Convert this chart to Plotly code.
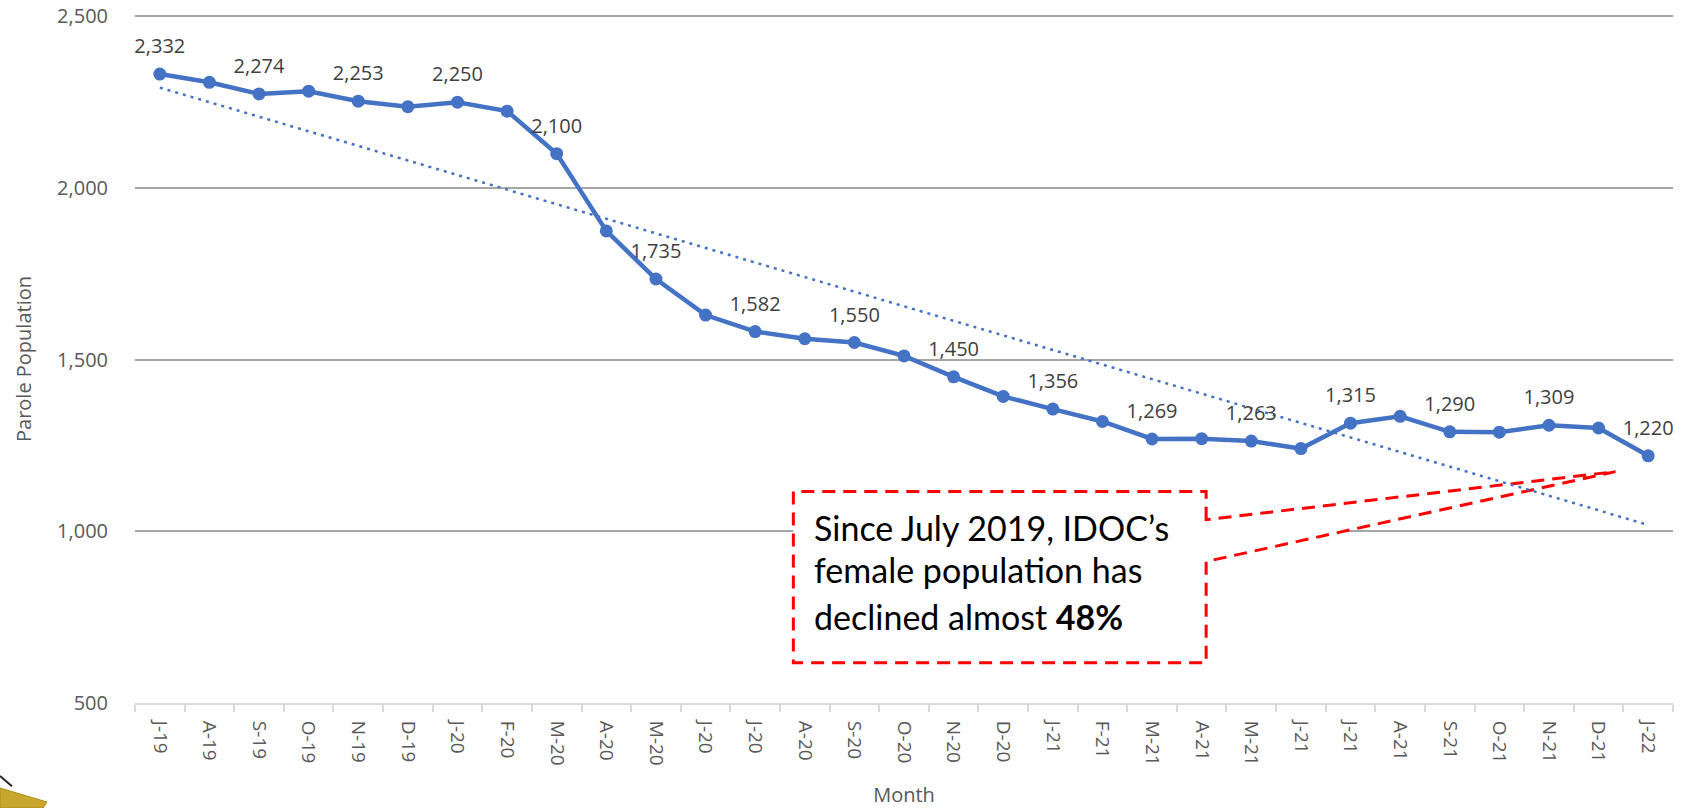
import numpy as np
import plotly.graph_objects as go

months = ["J-19", "A-19", "S-19", "O-19", "N-19", "D-19", "J-20", "F-20", "M-20", "A-20",
          "M-20", "J-20", "J-20", "A-20", "S-20", "O-20", "N-20", "D-20", "J-21", "F-21",
          "M-21", "A-21", "M-21", "J-21", "J-21", "A-21", "S-21", "O-21", "N-21", "D-21", "J-22"]
population = [2332, 2308, 2274, 2282, 2253, 2237, 2250, 2224, 2100, 1875,
              1735, 1630, 1582, 1561, 1550, 1511, 1450, 1393, 1356, 1320,
              1269, 1270, 1263, 1241, 1315, 1335, 1290, 1289, 1309, 1301, 1220]
y_ticks = [500, 1000, 1500, 2000, 2500]
callout_lines = ["Since July 2019, IDOC\u2019s", "female population has", "declined almost <b>48%</b>"]

x = np.arange(len(months))
slope, intercept = np.polyfit(x, population, 1)
trend = slope * x + intercept

BLUE = "#4472C4"
GRAY_TXT = "#595959"

fig = go.Figure()

# trendline
fig.add_trace(go.Scatter(
    x=x, y=trend, mode="lines",
    line=dict(color=BLUE, width=2.5, dash="3px,5px"),
    hoverinfo="skip", showlegend=False))

# main series
fig.add_trace(go.Scatter(
    x=x, y=population, mode="lines+markers",
    line=dict(color=BLUE, width=4.5),
    marker=dict(color=BLUE, size=13),
    showlegend=False))

# data labels every other point
lab_x = x[::2]
lab_y = population[::2]
fig.add_trace(go.Scatter(
    x=lab_x, y=lab_y, mode="markers+text",
    marker=dict(size=24, opacity=0),
    text=[f"{v:,}" for v in lab_y], textposition="top center",
    textfont=dict(family="Open Sans", size=20, color="#404040"),
    hoverinfo="skip", showlegend=False))

# callout shape (box + pointer), white fill
bx0, bx1, by0, by1 = 12.77, 21.09, 617, 1116
path = (f"M {bx1},1034 L {bx1},{by1} L {bx0},{by1} L {bx0},{by0} L {bx1},{by0} "
        f"L {bx1},912 L 29.34,1174 Z")
fig.add_shape(type="path", path=path, xref="x", yref="y",
              line=dict(color="#FF0000", width=3, dash="13px,8px"),
              fillcolor="white", layer="between")

for txt, yy in zip(callout_lines, [1011, 889, 752]):
    fig.add_annotation(x=13.15, y=yy, xref="x", yref="y", text=txt, showarrow=False,
                       xanchor="left", yanchor="middle",
                       font=dict(family="Lato", size=34, color="black"))

# small gold logo fragment in the bottom-left corner
fig.add_shape(type="path", xref="paper", yref="paper",
              path="M -0.0878,-0.1235 L -0.0572,-0.1439 L -0.0598,-0.1526 L -0.0878,-0.1526 Z",
              fillcolor="#C9A62C", line=dict(color="#B08A1A", width=1), layer="above")
fig.add_shape(type="line", xref="paper", yref="paper",
              x0=-0.0878, y0=-0.1060, x1=-0.0800, y1=-0.1210,
              line=dict(color="#222222", width=2), layer="above")

fig.update_layout(
    width=1687, height=808,
    margin=dict(l=135, r=14, t=15, b=105),
    plot_bgcolor="white", paper_bgcolor="white",
    font=dict(family="Open Sans", color=GRAY_TXT),
)

fig.update_xaxes(
    automargin=False,
    range=[-0.5, len(months) - 0.5],
    tickmode="array", tickvals=x, ticktext=months, tickangle=90,
    tickfont=dict(family="Open Sans", size=19, color=GRAY_TXT),
    ticks="", showgrid=False, zeroline=False,
    showline=True, linecolor="#D9D9D9", linewidth=2,
    minor=dict(tickmode="linear", tick0=-0.5, dtick=1, ticks="outside",
               ticklen=7, tickcolor="#D9D9D9", tickwidth=2, showgrid=False),
    ticklabelstandoff=12,
    title=dict(text="Month", font=dict(family="Open Sans", size=20, color=GRAY_TXT), standoff=46),
)
fig.update_yaxes(
    automargin=False,
    range=[500, 2504], tickmode="array", tickvals=y_ticks,
    ticktext=[f"{v:,}" for v in y_ticks],
    tickfont=dict(family="Open Sans", size=20, color=GRAY_TXT),
    ticklabeloverflow="allow",
    showgrid=True, gridcolor="#A6A6A6", gridwidth=1.5, zeroline=False,
    ticks="", ticklabelstandoff=26,
    title=dict(text="Parole Population", font=dict(family="Open Sans", size=20, color=GRAY_TXT), standoff=20),
)

fig.write_html("out.html",
               config={"displayModeBar": False},
               post_script="document.body.style.margin='0px';document.body.style.overflow='hidden';")
